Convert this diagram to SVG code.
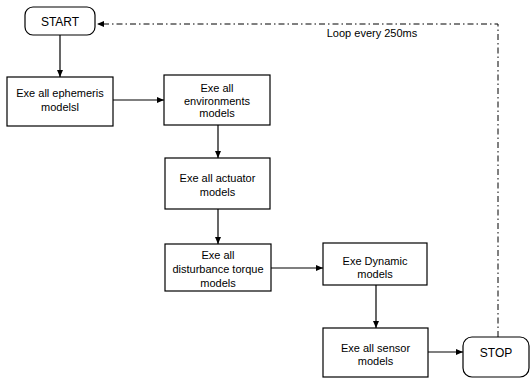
<svg xmlns="http://www.w3.org/2000/svg" width="531" height="380" viewBox="0 0 531 380">
<defs>
<marker id="ah" markerWidth="8" markerHeight="8" refX="7" refY="4" orient="auto" markerUnits="userSpaceOnUse">
<path d="M0,1 L7,4 L0,7 Z" fill="#000"/>
</marker>
</defs>
<style>
.box{fill:#fff;stroke:#000;stroke-width:1.2}
.t{font-family:"Liberation Sans",Arial,sans-serif;font-size:11px;fill:#000;text-anchor:middle}
.c{fill:none;stroke:#000;stroke-width:1.2}
.loop{fill:none;stroke:#000;stroke-width:1;stroke-dasharray:6 3 1.5 3}
</style>
<rect width="531" height="380" fill="#fff"/>
<g id="connectors">
<line class="c" x1="60" y1="35" x2="60" y2="77" marker-end="url(#ah)"/>
<line class="c" x1="113" y1="100" x2="164" y2="100" marker-end="url(#ah)"/>
<line class="c" x1="218" y1="125" x2="218" y2="158" marker-end="url(#ah)"/>
<line class="c" x1="218" y1="209" x2="218" y2="244" marker-end="url(#ah)"/>
<line class="c" x1="271" y1="268" x2="323" y2="268" marker-end="url(#ah)"/>
<line class="c" x1="376" y1="285" x2="376" y2="328" marker-end="url(#ah)"/>
<line class="c" x1="428" y1="352" x2="463" y2="352" marker-end="url(#ah)"/>
<polyline class="loop" points="498,337 498,24 97,24" marker-end="url(#ah)"/>
<text class="t" x="372" y="37">Loop every 250ms</text>
</g>
<g id="start">
<rect class="box" x="25" y="7" width="70" height="28" rx="8"/>
<text class="t" x="60" y="25.5" style="font-size:12px">START</text>
</g>
<g id="ephemeris">
<rect class="box" x="7" y="77" width="106" height="49"/>
<text class="t" x="60" y="97">Exe all ephemeris</text>
<text class="t" x="60" y="111">modelsl</text>
</g>
<g id="environments">
<rect class="box" x="164" y="75" width="106" height="50"/>
<text class="t" x="217" y="92">Exe all</text>
<text class="t" x="217" y="104.5">environments</text>
<text class="t" x="217" y="117">models</text>
</g>
<g id="actuator">
<rect class="box" x="165" y="158" width="105" height="51"/>
<text class="t" x="217.5" y="182">Exe all actuator</text>
<text class="t" x="217.5" y="196">models</text>
</g>
<g id="disturbance">
<rect class="box" x="165" y="244" width="106" height="47"/>
<text class="t" x="218" y="259">Exe all</text>
<text class="t" x="218" y="273">disturbance torque</text>
<text class="t" x="218" y="287">models</text>
</g>
<g id="dynamic">
<rect class="box" x="323" y="243" width="104" height="42"/>
<text class="t" x="375" y="265">Exe Dynamic</text>
<text class="t" x="375" y="278">models</text>
</g>
<g id="sensor">
<rect class="box" x="323" y="328" width="105" height="49"/>
<text class="t" x="375.5" y="352">Exe all sensor</text>
<text class="t" x="375.5" y="365">models</text>
</g>
<g id="stop">
<rect class="box" x="463" y="337" width="66" height="40" rx="9"/>
<text class="t" x="496" y="356.5" style="font-size:12px">STOP</text>
</g>
</svg>
